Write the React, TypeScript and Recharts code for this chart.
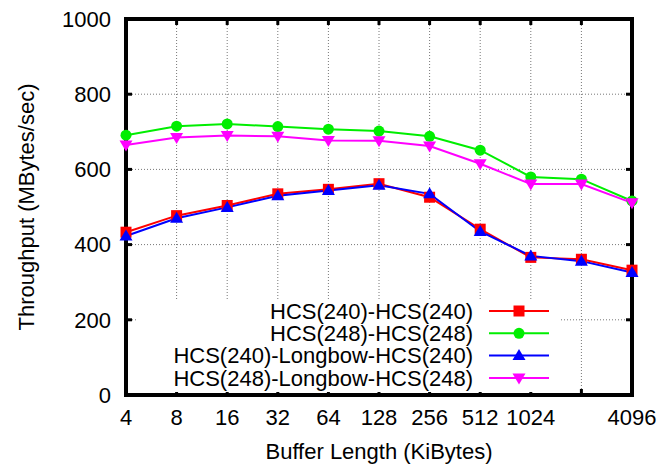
import { LineChart, Line, XAxis, YAxis, CartesianGrid, Legend, ReferenceArea, Label } from "recharts";

const bufferSizes = ["4", "8", "16", "32", "64", "128", "256", "512", "1024", "2048", "4096"];
const unlabeledSizes = ["2048"];
const yTicks = [0, 200, 400, 600, 800, 1000];

// throughput in MBytes/sec per buffer length
const hcs240 = [433, 477, 504, 535, 547, 562, 526, 441, 366, 361, 332];
const hcs248 = [691, 715, 721, 714, 707, 702, 688, 651, 580, 574, 516];
const longbow240 = [423, 470, 499, 530, 544, 558, 535, 435, 370, 356, 326];
const longbow248 = [665, 685, 690, 688, 677, 676, 662, 615, 561, 561, 511];

const series = [
  { key: "hcs240", name: "HCS(240)-HCS(240)", color: "#ff0000", marker: "square", values: hcs240 },
  { key: "hcs248", name: "HCS(248)-HCS(248)", color: "#00ee00", marker: "circle", values: hcs248 },
  { key: "longbow240", name: "HCS(240)-Longbow-HCS(240)", color: "#0000ff", marker: "up", values: longbow240 },
  { key: "longbow248", name: "HCS(248)-Longbow-HCS(248)", color: "#ff00ff", marker: "down", values: longbow248 },
];

const data = bufferSizes.map((size, i) => {
  const row: Record<string, string | number> = { size };
  series.forEach((s) => (row[s.key] = s.values[i]));
  return row;
});

const W = 659;
const H = 464;
const MARGIN = { top: 19, right: 27, bottom: 29, left: 66 };
const Y_AXIS_W = 60;
const X_AXIS_H = 40;
const PLOT_L = MARGIN.left + Y_AXIS_W;
const PLOT_R = W - MARGIN.right;
const PLOT_T = MARGIN.top;
const PLOT_B = H - MARGIN.bottom - X_AXIS_H;
const FONT = '"Liberation Sans", Arial, sans-serif';
const FONT_SIZE = 22;
const TICK_LEN = 6;

function Marker({ type, x, y, color }: { type: string; x: number; y: number; color: string }) {
  if (type === "square") return <rect x={x - 5.5} y={y - 5.5} width={11} height={11} fill={color} />;
  if (type === "circle") return <circle cx={x} cy={y} r={5.5} fill={color} />;
  if (type === "up")
    return <polygon points={`${x},${y - 6.5} ${x + 6.5},${y + 4.5} ${x - 6.5},${y + 4.5}`} fill={color} />;
  return <polygon points={`${x},${y + 6.5} ${x + 6.5},${y - 4.5} ${x - 6.5},${y - 4.5}`} fill={color} />;
}

// y ticks: label on the left, inward marks on both sides of the frame
function YTick(props: any) {
  const y = props.payload.coordinate;
  return (
    <g>
      <line x1={PLOT_L} x2={PLOT_L + TICK_LEN} y1={y} y2={y} stroke="#000" strokeWidth={3} />
      <line x1={PLOT_R - TICK_LEN} x2={PLOT_R} y1={y} y2={y} stroke="#000" strokeWidth={3} />
      <text x={PLOT_L - 15} y={y} dy="0.35em" textAnchor="end" fontSize={FONT_SIZE} fontFamily={FONT} fill="#000">
        {props.payload.value}
      </text>
    </g>
  );
}

function XTick(props: any) {
  const x = props.payload.coordinate;
  const label = unlabeledSizes.includes(props.payload.value) ? "" : props.payload.value;
  return (
    <g>
      <line x1={x} x2={x} y1={PLOT_B} y2={PLOT_B - TICK_LEN} stroke="#000" strokeWidth={3} />
      <line x1={x} x2={x} y1={PLOT_T} y2={PLOT_T + TICK_LEN} stroke="#000" strokeWidth={3} />
      <text x={x} y={PLOT_B + 22} dy="0.35em" textAnchor="middle" fontSize={FONT_SIZE} fontFamily={FONT} fill="#000">
        {label}
      </text>
    </g>
  );
}

const LEGEND_BOX = { left: 138, top: 300, width: 423, height: 92 };

function LegendBox() {
  return (
    <svg width={LEGEND_BOX.width} height={LEGEND_BOX.height} style={{ display: "block" }}>
      {series.map((s, i) => {
        const y = 11 + i * 22.3;
        return (
          <g key={s.key}>
            <text x={335} y={y} dy="0.35em" textAnchor="end" fontSize={FONT_SIZE} fontFamily={FONT} fill="#000">
              {s.name}
            </text>
            <line x1={351} x2={411} y1={y} y2={y} stroke={s.color} strokeWidth={2} />
            <Marker type={s.marker} x={381} y={y} color={s.color} />
          </g>
        );
      })}
    </svg>
  );
}

export default function App() {
  return (
    <div style={{ position: "absolute", left: 0, top: 0, background: "#fff" }}>
      <LineChart width={W} height={H} data={data} margin={MARGIN}>
        <CartesianGrid stroke="#777" strokeDasharray="1 2" strokeWidth={1} />
        <ReferenceArea x1="4" x2="4096" y1={0} y2={1000} fill="none" stroke="#000" strokeWidth={4} />
        <XAxis
          dataKey="size"
          type="category"
          interval={0}
          height={X_AXIS_H}
          axisLine={false}
          tickLine={false}
          tick={<XTick />}
        >
          <Label
            content={() => (
              <text x={(PLOT_L + PLOT_R) / 2} y={451} dy="0.35em" textAnchor="middle" fontSize={FONT_SIZE} fontFamily={FONT} fill="#000">
                Buffer Length (KiBytes)
              </text>
            )}
          />
        </XAxis>
        <YAxis
          type="number"
          domain={[0, 1000]}
          ticks={yTicks}
          interval={0}
          width={Y_AXIS_W}
          axisLine={false}
          tickLine={false}
          tick={<YTick />}
        >
          <Label
            content={() => (
              <text
                x={26}
                y={(PLOT_T + PLOT_B) / 2}
                dy="0.35em"
                textAnchor="middle"
                fontSize={FONT_SIZE}
                fontFamily={FONT}
                fill="#000"
                transform={`rotate(-90 26 ${(PLOT_T + PLOT_B) / 2})`}
              >
                Throughput (MBytes/sec)
              </text>
            )}
          />
        </YAxis>
        {series.map((s) => (
          <Line
            key={s.key}
            type="linear"
            dataKey={s.key}
            name={s.name}
            stroke={s.color}
            strokeWidth={2}
            isAnimationActive={false}
            activeDot={false}
            dot={(p: any) => <Marker key={`${s.key}-${p.index}`} type={s.marker} x={p.cx} y={p.cy} color={s.color} />}
          />
        ))}
        <Legend
          layout="horizontal"
          verticalAlign="middle"
          align="center"
          content={() => <LegendBox />}
          wrapperStyle={{ ...LEGEND_BOX, background: "#fff" }}
        />
      </LineChart>
    </div>
  );
}
